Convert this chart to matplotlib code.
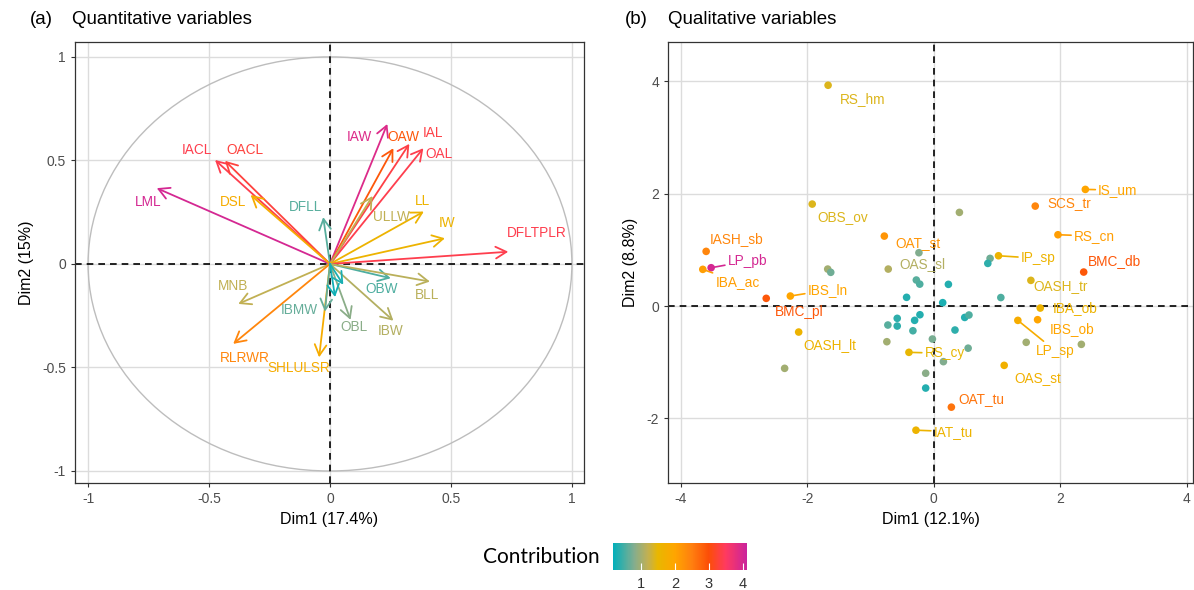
import numpy as np
import matplotlib
matplotlib.use('Agg')
import matplotlib.pyplot as plt
from matplotlib.colors import LinearSegmentedColormap, Normalize
from matplotlib.patches import Circle
from matplotlib.colorbar import ColorbarBase

plt.rcParams['font.family'] = ['Liberation Sans', 'DejaVu Sans']
plt.rcParams['axes.unicode_minus'] = False

# ---------------- data: quantitative variables (panel a) ----------------
var_names = ['IACL', 'OACL', 'LML', 'DSL', 'DFLL', 'IAW', 'OAW', 'IAL', 'OAL',
             'ULLW', 'LL', 'IW', 'DFLTPLR', 'OBW', 'BLL', 'MNB', 'RLRWR',
             'SHLULSR', 'IBMW', 'OBL', 'IBW', None, None]
var_dim1 = [-0.475, -0.434, -0.716, -0.328, -0.028, 0.237, 0.262, 0.328, 0.386,
            0.176, 0.388, 0.475, 0.737, 0.251, 0.413, -0.379, -0.400,
            -0.045, -0.021, 0.085, 0.262, 0.021, 0.055]
var_dim2 = [0.502, 0.498, 0.366, 0.333, 0.226, 0.676, 0.559, 0.580, 0.559,
            0.328, 0.253, 0.124, 0.059, -0.069, -0.085, -0.193, -0.386,
            -0.451, -0.230, -0.270, -0.274, -0.160, -0.100]
var_contrib = [3.4, 3.3, 4.0, 1.8, 0.6, 3.9, 2.9, 3.35, 3.4,
               1.2, 1.6, 1.6, 3.4, 0.55, 1.15, 1.2, 2.4,
               1.8, 0.65, 0.85, 1.1, 0.25, 0.3]

# label placement (layout only)
var_label_pos = {
    'IACL': (-0.551, 0.551), 'OACL': (-0.351, 0.551), 'LML': (-0.75, 0.301),
    'DSL': (-0.402, 0.301), 'DFLL': (-0.099, 0.277), 'IAW': (0.121, 0.612),
    'OAW': (0.303, 0.612), 'IAL': (0.424, 0.631), 'OAL': (0.452, 0.531),
    'ULLW': (0.255, 0.229), 'LL': (0.383, 0.306), 'IW': (0.482, 0.197),
    'DFLTPLR': (0.854, 0.148), 'OBW': (0.214, -0.122), 'BLL': (0.402, -0.150),
    'MNB': (-0.402, -0.106), 'RLRWR': (-0.351, -0.456), 'SHLULSR': (-0.128, -0.504),
    'IBMW': (-0.128, -0.222), 'OBL': (0.10, -0.303), 'IBW': (0.252, -0.322),
}

# ---------------- data: qualitative variables (panel b) ----------------
cat_names = ['RS_hm', 'OBS_ov', 'IASH_sb', 'LP_pb', 'IBA_ac', 'BMC_pl', 'IBS_ln',
             'OAT_st', 'OAS_sl', 'IS_um', 'SCS_tr', 'RS_cn', 'IP_sp', 'BMC_db',
             'OASH_tr', 'IBA_ob', 'IBS_ob', 'LP_sp', 'OAS_st', 'RS_cy',
             'OASH_lt', 'OAT_tu', 'IAT_tu']
cat_dim1 = [-1.669, -1.920, -3.597, -3.518, -3.650, -2.647, -2.266,
            -0.780, -0.718, 2.398, 1.606, 1.965, 1.025, 2.372,
            1.537, 1.685, 1.643, 1.331, 1.115, -0.391,
            -2.134, 0.280, -0.280]
cat_dim2 = [3.93, 1.815, 0.973, 0.682, 0.653, 0.137, 0.178,
            1.245, 0.658, 2.076, 1.779, 1.269, 0.895, 0.605,
            0.457, -0.036, -0.243, -0.255, -1.056, -0.824,
            -0.463, -1.800, -2.210]
cat_contrib = [1.4, 1.4, 2.4, 4.0, 2.1, 2.9, 2.0,
               2.2, 1.1, 2.0, 2.4, 2.1, 1.6, 2.9,
               1.4, 1.6, 2.0, 1.8, 1.7, 1.5,
               1.6, 2.6, 1.6]

other_dim1 = [-1.675, -1.627, -0.233, 0.407, 0.892, 0.856, -0.274, -0.220, 0.233,
              -0.428, 0.143, 1.062, -0.217, -0.301, -0.576, -0.576, -0.724,
              -0.328, 0.491, 0.558, 0.337, -0.740, -0.020, 0.545, 0.154,
              -0.126, -0.126, -2.356, 1.463, 2.335]
other_dim2 = [0.658, 0.600, 0.949, 1.667, 0.848, 0.759, 0.463, 0.390, 0.386,
              0.155, 0.060, 0.151, -0.155, -0.255, -0.219, -0.356, -0.338,
              -0.440, -0.203, -0.160, -0.427, -0.635, -0.587, -0.750, -0.990,
              -1.196, -1.460, -1.109, -0.646, -0.682]
other_contrib = [1.0, 0.7, 0.8, 1.0, 0.7, 0.4, 0.6, 0.55, 0.35,
                 0.35, 0.3, 0.55, 0.35, 0.35, 0.4, 0.4, 0.6,
                 0.5, 0.35, 0.55, 0.4, 1.0, 0.75, 0.7, 0.8,
                 0.85, 0.35, 1.0, 1.0, 1.0]

# label placement (layout only)
cat_label_pos = {
    'RS_hm': (-1.13, 3.683), 'OBS_ov': (-1.431, 1.589), 'IASH_sb': (-3.122, 1.187),
    'LP_pb': (-2.943, 0.80), 'IBA_ac': (-3.101, 0.432), 'BMC_pl': (-2.119, -0.112),
    'IBS_ln': (-1.675, 0.285), 'OAT_st': (-0.254, 1.126), 'OAS_sl': (-0.174, 0.742),
    'IS_um': (2.911, 2.064), 'SCS_tr': (2.15, 1.838), 'RS_cn': (2.541, 1.246),
    'IP_sp': (1.653, 0.849), 'BMC_db': (2.858, 0.806), 'OASH_tr': (2.013, 0.361),
    'IBA_ob': (2.23, -0.03), 'IBS_ob': (2.187, -0.415), 'LP_sp': (1.928, -0.80),
    'OAS_st': (1.643, -1.28), 'RS_cy': (0.175, -0.842), 'OASH_lt': (-1.645, -0.694),
    'OAT_tu': (0.76, -1.655), 'IAT_tu': (0.31, -2.236),
}
cat_with_segment = {'LP_pb', 'IBA_ac', 'IBS_ln', 'IS_um', 'RS_cn', 'IP_sp',
                    'LP_sp', 'RS_cy', 'IAT_tu'}

# ---------------- colour scale ----------------
cvmin, cvmax = 0.17, 4.13
stops_v = [0.17, 0.8, 1.2, 1.5, 2.0, 2.5, 3.0, 3.5, 4.13]
stops_c = ['#00AFBB', '#84AD8E', '#C2B052', '#E9B700', '#FFA500', '#FF7F0F',
           '#FC4E07', '#FF3A60', '#C9239E']
cmap = LinearSegmentedColormap.from_list(
    'contrib', [((v - cvmin) / (cvmax - cvmin), c) for v, c in zip(stops_v, stops_c)])
norm = Normalize(cvmin, cvmax)

TICK_C = '#4D4D4D'
GRID_C = '#DCDCDC'

fig = plt.figure(figsize=(11.94, 5.90), dpi=100)


def style_axes(ax):
    ax.set_facecolor('white')
    ax.grid(True, color=GRID_C, lw=1.0, zorder=0)
    ax.set_axisbelow(True)
    for s in ax.spines.values():
        s.set_color('#333333')
        s.set_linewidth(0.9)
    ax.tick_params(colors=TICK_C, labelsize=10, length=3, width=0.8)
    ax.tick_params(axis='both', color='#333333')


# ---------------- panel a ----------------
axa = fig.add_axes([75 / 1194, 1 - 483 / 590, (584 - 75) / 1194, (483 - 42) / 590])
style_axes(axa)
axa.set_xlim(-1.054, 1.05)
axa.set_ylim(-1.058, 1.072)
axa.set_xticks([-1, -0.5, 0, 0.5, 1])
axa.set_xticklabels(['-1', '-0.5', '0', '0.5', '1'])
axa.set_yticks([-1, -0.5, 0, 0.5, 1])
axa.set_yticklabels(['-1', '-0.5', '0', '0.5', '1'])
axa.add_patch(Circle((0, 0), 1, fill=False, ec='#BDBDBD', lw=1.0, zorder=1))
axa.axhline(0, color='black', ls=(0, (4, 3)), lw=1.2, zorder=2)
axa.axvline(0, color='black', ls=(0, (4, 3)), lw=1.2, zorder=2)
for name, x, y, c in zip(var_names, var_dim1, var_dim2, var_contrib):
    col = cmap(norm(c))
    axa.annotate('', xy=(x, y), xytext=(0, 0),
                 arrowprops=dict(arrowstyle='->,head_length=0.55,head_width=0.3',
                                 color=col, lw=1.3, shrinkA=0, shrinkB=0,
                                 mutation_scale=14), zorder=3)
    if name is not None:
        lx, ly = var_label_pos[name]
        axa.text(lx, ly, name, color=col, fontsize=9.8, ha='center', va='center', zorder=4)
axa.set_xlabel('Dim1 (17.4%)', fontsize=11.5, labelpad=4)
axa.set_ylabel('Dim2 (15%)', fontsize=11.5, labelpad=6)

# ---------------- panel b ----------------
axb = fig.add_axes([668 / 1194, 1 - 483 / 590, (1193 - 668) / 1194, (483 - 42) / 590])
style_axes(axb)
axb.set_xlim(-4.2, 4.1)
axb.set_ylim(-3.15, 4.70)
axb.set_xticks([-4, -2, 0, 2, 4])
axb.set_yticks([-2, 0, 2, 4])
axb.axhline(0, color='black', ls=(0, (4, 3)), lw=1.2, zorder=2)
axb.axvline(0, color='black', ls=(0, (4, 3)), lw=1.2, zorder=2)
axb.scatter(other_dim1, other_dim2, c=other_contrib, cmap=cmap, norm=norm,
            s=30, edgecolors='none', zorder=3)
axb.scatter(cat_dim1, cat_dim2, c=cat_contrib, cmap=cmap, norm=norm,
            s=30, edgecolors='none', zorder=3)
for name, x, y, c in zip(cat_names, cat_dim1, cat_dim2, cat_contrib):
    col = cmap(norm(c))
    lx, ly = cat_label_pos[name]
    if name in cat_with_segment:
        axb.annotate(name, xy=(x, y), xytext=(lx, ly), color=col, fontsize=9.8,
                     ha='center', va='center', zorder=4,
                     arrowprops=dict(arrowstyle='-', color=col, lw=1.2,
                                     shrinkA=0, shrinkB=2))
    else:
        axb.text(lx, ly, name, color=col, fontsize=9.8, ha='center', va='center', zorder=4)
axb.set_xlabel('Dim1 (12.1%)', fontsize=11.5, labelpad=4)
axb.set_ylabel('Dim2 (8.8%)', fontsize=11.5, labelpad=6)

# ---------------- titles ----------------
fig.text(30 / 1194, 1 - 20 / 590, '(a)', fontsize=13.5, va='center', ha='left')
fig.text(72 / 1194, 1 - 20 / 590, 'Quantitative variables', fontsize=13.5, va='center', ha='left')
fig.text(625 / 1194, 1 - 20 / 590, '(b)', fontsize=13.5, va='center', ha='left')
fig.text(668 / 1194, 1 - 20 / 590, 'Qualitative variables', fontsize=13.5, va='center', ha='left')

# ---------------- colour legend ----------------
cax = fig.add_axes([612.7 / 1194, 1 - 570 / 590, (747.3 - 612.7) / 1194, (570 - 543.3) / 590])
cb = ColorbarBase(cax, cmap=cmap, norm=norm, orientation='horizontal', ticks=[1, 2, 3, 4])
cb.outline.set_visible(False)
cax.tick_params(axis='x', direction='in', colors='white', length=5, width=0.8,
                labelcolor='#333333', labelsize=10.5, pad=5)
fig.text(600 / 1194, 1 - 557 / 590, 'Contribution', fontsize=15, ha='right', va='center',
         family=['Lato', 'DejaVu Sans'])

fig.savefig('out.png', dpi=100, facecolor='white')
